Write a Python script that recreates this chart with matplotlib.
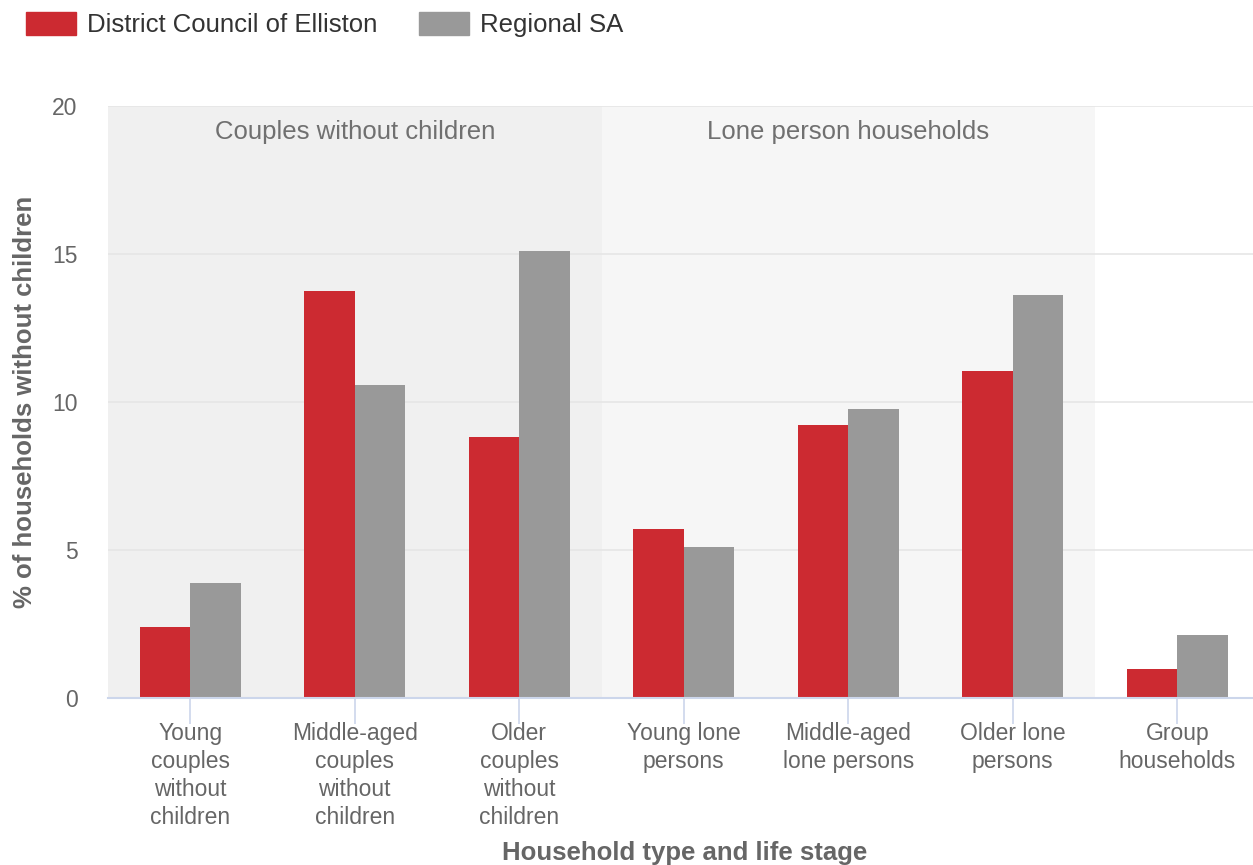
import matplotlib
matplotlib.use('Agg')
import matplotlib.pyplot as plt
import numpy as np
from matplotlib.patches import Patch

plt.rcParams['font.family'] = ['Liberation Sans', 'DejaVu Sans']

categories = [
    "Young\ncouples\nwithout\nchildren",
    "Middle-aged\ncouples\nwithout\nchildren",
    "Older\ncouples\nwithout\nchildren",
    "Young lone\npersons",
    "Middle-aged\nlone persons",
    "Older lone\npersons",
    "Group\nhouseholds",
]
elliston = [2.4, 13.75, 8.82, 5.71, 9.22, 11.05, 0.98]
regional_sa = [3.89, 10.57, 15.1, 5.1, 9.76, 13.61, 2.13]
series_names = ["District Council of Elliston", "Regional SA"]
groups = ["Couples without children", "Lone person households"]
group_spans = [(0, 2), (3, 5)]

RED = '#cc2a31'
GREY = '#999999'

fig = plt.figure(figsize=(12.53, 8.65), dpi=100)
ax = fig.add_axes([0.0862, 0.1931, 0.919, 0.6844])

# shaded group bands
band_colors = ['#f0f0f0', '#f6f6f6']
for (a, b), name, c in zip(group_spans, groups, band_colors):
    ax.axvspan(a - 0.5, b + 0.5, color=c, zorder=0, lw=0)
    ax.text((a + b) / 2, 19.12, name, ha='center', va='center',
            fontsize=18.5, color='#707070')

x = np.arange(len(categories))
w = 0.306
ax.bar(x - w / 2, elliston, w, color=RED, zorder=3, lw=0)
ax.bar(x + w / 2, regional_sa, w, color=GREY, zorder=3, lw=0)

ax.set_xlim(-0.5, len(categories) - 0.5)
ax.set_ylim(0, 20)
ax.set_yticks([0, 5, 10, 15, 20])
ax.yaxis.grid(True, color='#e6e6e6', lw=1.2, zorder=1)
ax.set_axisbelow(True)
for s in ['top', 'right', 'left']:
    ax.spines[s].set_visible(False)
ax.spines['bottom'].set_color('#ccd6eb')
ax.spines['bottom'].set_linewidth(1.5)
ax.spines['bottom'].set_zorder(4)

ax.set_xticks(x)
ax.set_xticklabels(categories, fontsize=16.5, color='#666666', linespacing=1.28)
ax.tick_params(axis='x', length=19, width=1.2, color='#ccd6eb', pad=-2)
ax.tick_params(axis='y', length=0, labelsize=16.5, labelcolor='#666666', pad=22)

ax.set_ylabel('% of households without children', fontsize=18.5, fontweight='bold',
              color='#666666', labelpad=11)
fig.text(0.546, 0.014, 'Household type and life stage', ha='center', va='center',
         fontsize=18.5, fontweight='bold', color='#666666')

handles = [Patch(color=RED), Patch(color=GREY)]
fig.legend(handles, series_names, loc='upper left', bbox_to_anchor=(0.002, 1.013),
           ncol=2, frameon=False, fontsize=18.5, handlelength=1.95, handleheight=1.0,
           handletextpad=0.45, columnspacing=1.6, labelcolor='#333333')

fig.savefig('out.png', dpi=100, facecolor='white')
